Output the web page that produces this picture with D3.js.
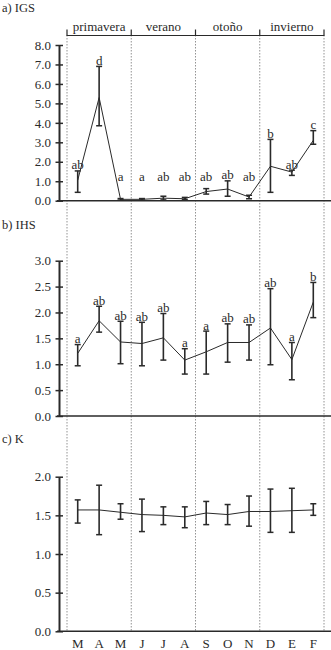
<!DOCTYPE html>
<html><head><meta charset="utf-8">
<script src="https://cdn.jsdelivr.net/npm/d3@7"></script>
<style>html,body{margin:0;padding:0;background:#fff;} svg{display:block;} svg text{font-family:"Liberation Serif","Times New Roman","DejaVu Serif",serif !important;}</style>
</head><body>
<script>
const months = ["M","A","M","J","J","A","S","O","N","D","E","F"];
const seasons = ["primavera","verano","otoño","invierno"];

const igsMean = [1.05,5.3,0.07,0.07,0.13,0.10,0.47,0.60,0.19,1.77,1.47,3.10];
const igsLo   = [0.43,3.85,0.03,0.03,0.04,0.05,0.34,0.23,0.10,0.43,1.30,2.90];
const igsHi   = [1.53,6.90,0.11,0.11,0.23,0.17,0.62,1.02,0.28,3.15,1.57,3.60];
const igsLetters = ["ab","d","a","a","ab","ab","ab","ab","ab","b","ab","c"];

const ihsMean = [1.21,1.84,1.43,1.40,1.51,1.08,1.24,1.42,1.42,1.70,1.09,2.20];
const ihsLo   = [0.97,1.62,1.01,0.97,1.08,0.81,0.81,1.04,1.08,0.99,0.70,1.90];
const ihsHi   = [1.38,2.12,1.83,1.81,1.98,1.30,1.64,1.78,1.76,2.46,1.42,2.58];
const ihsLetters = ["a","ab","ab","ab","ab","a","a","ab","ab","ab","a","b"];

const kMean = [1.57,1.57,1.54,1.51,1.50,1.48,1.53,1.51,1.55,1.55,1.56,1.57];
const kLo   = [1.40,1.25,1.45,1.29,1.38,1.34,1.38,1.38,1.36,1.28,1.28,1.50];
const kHi   = [1.70,1.89,1.65,1.71,1.61,1.61,1.68,1.64,1.75,1.84,1.85,1.65];

const aTicks = [0,1,2,3,4,5,6,7,8];
const bTicks = [0,0.5,1,1.5,2,2.5,3];
const cTicks = [0,0.5,1,1.5,2];

const W = 331, H = 650;
const svg = d3.select("body").append("svg").attr("width", W).attr("height", H);
const font = "Liberation Serif";
const ink = "#2a2a2a";

const x = d3.scaleBand().domain(d3.range(months.length)).range([67, 324]).padding(0);
const seasonX = d3.scaleBand().domain(seasons).range([67, 324]).padding(0);
const axisX = 59;

// vertical dashed season separators
const seps = seasons.map(s => seasonX(s)).concat([seasonX.range()[1]]);
svg.selectAll("line.sep").data(seps).join("line")
  .attr("x1", d => d).attr("x2", d => d).attr("y1", 35).attr("y2", 631.5)
  .attr("stroke", "#777").attr("stroke-width", 0.8).attr("stroke-dasharray", "1.5,1.5");

// season header
svg.append("line").attr("x1", 67).attr("x2", 324).attr("y1", 35.5).attr("y2", 35.5)
  .attr("stroke", ink).attr("stroke-width", 1.2);
svg.selectAll("line.stick").data(seps).join("line")
  .attr("x1", d => d).attr("x2", d => d).attr("y1", 29.5).attr("y2", 36)
  .attr("stroke", ink).attr("stroke-width", 1.2);
svg.selectAll("text.season").data(seasons).join("text")
  .attr("x", d => seasonX(d) + seasonX.bandwidth() / 2).attr("y", 31)
  .attr("text-anchor", "middle").style("font-family", font).attr("font-size", 13)
  .attr("fill", ink).text(d => d);

function panel(opts) {
  const { title, titleY, domain, range, ticks, mean, lo, hi, letters, labelFloor } = opts;
  const y = d3.scaleLinear().domain(domain).range(range);
  const g = svg.append("g");
  g.append("text").attr("x", 2).attr("y", titleY).style("font-family", font)
    .attr("font-size", 12.5).attr("fill", ink).text(title);

  // baseline
  g.append("line").attr("x1", 57).attr("x2", 331).attr("y1", y(0)).attr("y2", y(0))
    .attr("stroke", ink).attr("stroke-width", 1.5);

  // y axis
  const ax = d3.axisLeft(y).tickValues(ticks).tickFormat(d3.format(".1f")).tickSizeInner(4).tickSizeOuter(0);
  const ag = g.append("g").attr("transform", `translate(${axisX},0)`).call(ax);
  ag.attr("font-family", null);
  ag.select(".domain").attr("stroke", ink).attr("stroke-width", 2);
  ag.selectAll(".tick line").attr("stroke", ink).attr("stroke-width", 1.5).attr("x2", 4).attr("x1", -3.5);
  ag.selectAll(".tick text").style("font-family", font).attr("font-size", 13).attr("fill", ink)
    .attr("x", -8);

  // line
  const line = d3.line().x((d, i) => x(i) + x.bandwidth() / 2).y(d => y(d));
  g.append("path").datum(mean).attr("d", line).attr("fill", "none")
    .attr("stroke", ink).attr("stroke-width", 1);

  // error bars
  const idx = d3.range(mean.length);
  const cx = i => x(i) + x.bandwidth() / 2;
  g.selectAll("line.eb").data(idx).join("line")
    .attr("x1", cx).attr("x2", cx).attr("y1", i => y(lo[i])).attr("y2", i => y(hi[i]))
    .attr("stroke", ink).attr("stroke-width", 1.6);
  ["lo", "hi"].forEach(k => {
    const arr = k === "lo" ? lo : hi;
    g.selectAll("line.cap" + k).data(idx).join("line")
      .attr("x1", i => cx(i) - 3).attr("x2", i => cx(i) + 3)
      .attr("y1", i => y(arr[i])).attr("y2", i => y(arr[i]))
      .attr("stroke", ink).attr("stroke-width", 1.5);
  });

  if (letters) {
    g.selectAll("text.let").data(idx).join("text")
      .attr("x", cx)
      .attr("y", i => {
        let b = y(hi[i]) - 1.5;
        if (labelFloor != null) b = Math.min(b, y(labelFloor));
        return b;
      })
      .attr("text-anchor", "middle").style("font-family", font).attr("font-size", 13)
      .attr("fill", ink).text(i => letters[i]);
  }
  return y;
}

panel({ title: "a) IGS", titleY: 12, domain: [0, 8], range: [200.7, 45], ticks: aTicks,
  mean: igsMean, lo: igsLo, hi: igsHi, letters: igsLetters, labelFloor: 1.0 });
panel({ title: "b) IHS", titleY: 229, domain: [0, 3], range: [416, 260.7], ticks: bTicks,
  mean: ihsMean, lo: ihsLo, hi: ihsHi, letters: ihsLetters });
panel({ title: "c) K", titleY: 443, domain: [0, 2], range: [631.3, 476.7], ticks: cTicks,
  mean: kMean, lo: kLo, hi: kHi, letters: null });

// month labels
svg.selectAll("text.month").data(months.map((m, i) => ({ m, i }))).join("text")
  .attr("x", d => x(d.i) + x.bandwidth() / 2).attr("y", 647.5)
  .attr("text-anchor", "middle").style("font-family", font).attr("font-size", 13)
  .attr("fill", ink).text(d => d.m);
</script>
</body></html>
